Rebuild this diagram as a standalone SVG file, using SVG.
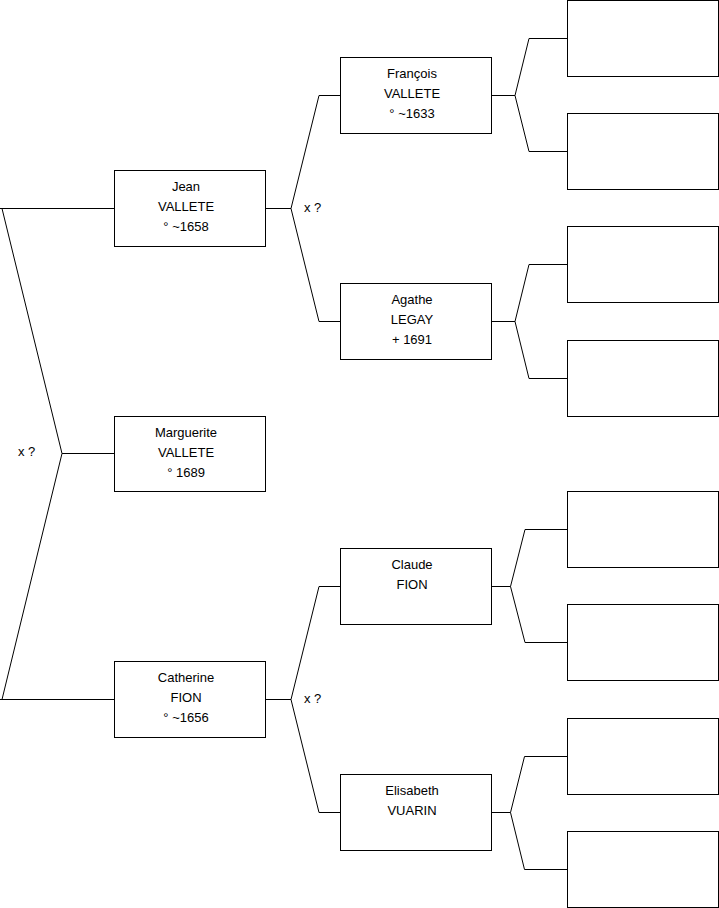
<svg xmlns="http://www.w3.org/2000/svg" width="719" height="908" viewBox="0 0 719 908">
<defs>
<style>
.box{fill:#fff;stroke:#000;stroke-width:1}
.edge{fill:none;stroke:#000;stroke-width:1}
text{font-family:"Liberation Sans",Arial,sans-serif;font-size:13px;fill:#000}
.c{text-anchor:middle}
</style>
</defs>
<rect width="719" height="908" fill="#fff"/>
<g id="connectors">
<path class="edge" d="M114.5,208.5 H0 M2,208.5 L62,453.5 L2,699.5 M0,699.5 H114.5 M62,453.5 H114.5"/>
<path class="edge" d="M265.5,208.5 H291 L319,95.5 H340.5 M291,208.5 L319,321.5 H340.5"/>
<path class="edge" d="M265.5,699.5 H291 L319,586.5 H340.5 M291,699.5 L319,812.5 H340.5"/>
<path class="edge" d="M491.5,95.5 H515 L529,38.5 H567.5 M515,95.5 L529,151.5 H567.5"/>
<path class="edge" d="M491.5,321.5 H515 L529,264.5 H567.5 M515,321.5 L529,378.5 H567.5"/>
<path class="edge" d="M491.5,586.5 H510.5 L525,529.5 H567.5 M510.5,586.5 L525,642.5 H567.5"/>
<path class="edge" d="M491.5,812.5 H510.5 L524.5,756.5 H567.5 M510.5,812.5 L524.5,869.5 H567.5"/>
<text x="18" y="456">x ?</text>
<text x="304" y="212">x ?</text>
<text x="304" y="703">x ?</text>
</g>
<g id="jean"><rect class="box" x="114.5" y="170.5" width="151" height="76"/>
<text class="c" x="186" y="190.5">Jean</text><text class="c" x="186" y="210.5">VALLETE</text><text class="c" x="186" y="230.5">° ~1658</text></g>
<g id="marguerite"><rect class="box" x="114.5" y="416.5" width="151" height="75"/>
<text class="c" x="186" y="437">Marguerite</text><text class="c" x="186" y="457">VALLETE</text><text class="c" x="186" y="477">° 1689</text></g>
<g id="catherine"><rect class="box" x="114.5" y="661.5" width="151" height="76"/>
<text class="c" x="186" y="681.5">Catherine</text><text class="c" x="186" y="701.5">FION</text><text class="c" x="186" y="721.5">° ~1656</text></g>
<g id="francois"><rect class="box" x="340.5" y="57.5" width="151" height="76"/>
<text class="c" x="412" y="77.5">François</text><text class="c" x="412" y="97.5">VALLETE</text><text class="c" x="412" y="117.5">° ~1633</text></g>
<g id="agathe"><rect class="box" x="340.5" y="283.5" width="151" height="76"/>
<text class="c" x="412" y="303.5">Agathe</text><text class="c" x="412" y="323.5">LEGAY</text><text class="c" x="412" y="343.5">+ 1691</text></g>
<g id="claude"><rect class="box" x="340.5" y="548.5" width="151" height="76"/>
<text class="c" x="412" y="568.5">Claude</text><text class="c" x="412" y="588.5">FION</text></g>
<g id="elisabeth"><rect class="box" x="340.5" y="774.5" width="151" height="76"/>
<text class="c" x="412" y="794.5">Elisabeth</text><text class="c" x="412" y="814.5">VUARIN</text></g>
<g id="empty1"><rect class="box" x="567.5" y="0.5" width="151" height="76"/></g>
<g id="empty2"><rect class="box" x="567.5" y="113.5" width="151" height="76"/></g>
<g id="empty3"><rect class="box" x="567.5" y="226.5" width="151" height="76"/></g>
<g id="empty4"><rect class="box" x="567.5" y="340.5" width="151" height="76"/></g>
<g id="empty5"><rect class="box" x="567.5" y="491.5" width="151" height="76"/></g>
<g id="empty6"><rect class="box" x="567.5" y="604.5" width="151" height="76"/></g>
<g id="empty7"><rect class="box" x="567.5" y="718.5" width="151" height="76"/></g>
<g id="empty8"><rect class="box" x="567.5" y="831.5" width="151" height="76"/></g>
</svg>
